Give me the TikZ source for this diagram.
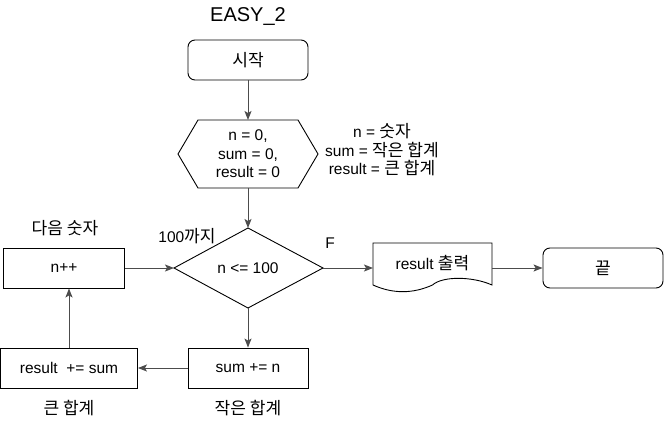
\documentclass[tikz,border=0pt]{standalone}
\usepackage{fontspec}
\setmainfont{Liberation Sans}
\newfontfamily\kr[Scale=1.1]{Noto Sans CJK KR}
\usetikzlibrary{arrows.meta}
\begin{document}
\begin{tikzpicture}[x=1pt,y=-1pt,
  every node/.style={font=\fontsize{15.5}{18.5}\selectfont, inner sep=0pt},
  box/.style={draw=black, line width=0.9pt, minimum width=120pt, minimum height=40pt, align=center},
  rbox/.style={box, rounded corners=7pt},
  lbl/.style={align=center},
  conn/.style={draw=black!70, line width=1pt, -{Stealth[length=9pt,width=7pt,inset=2pt]}}]
\useasboundingbox (0,0) rectangle (664,428);
% title
\node (title) at (248,17) {\fontsize{20}{24}\selectfont EASY\_2};
% start
\node[rbox] (start) at (248,60) {\kr 시작};
% hexagon
\coordinate (hl) at (178,154);
\coordinate (hr) at (318,154);
\draw[line width=0.9pt] (178,154) -- (198,120) -- (298,120) -- (318,154) -- (298,188) -- (198,188) -- cycle;
\node[lbl] (init) at (248,154) {n = 0,\\ sum = 0,\\ result = 0};
\coordinate (htop) at (248,120);
\coordinate (hbot) at (248,188);
% diamond
\draw[line width=0.9pt] (174,268) -- (248,228) -- (323,268) -- (248,308) -- cycle;
\node (cond) at (248,268) {n <= 100};
\coordinate (dtop) at (248,228);
\coordinate (dbot) at (248,308);
\coordinate (dl) at (174,268);
\coordinate (dr) at (323,268);
% document
\draw[line width=0.9pt] (373,243) -- (492,243) -- (492,285)
  .. controls (472,276.1) and (442.3,276.1) .. (432.5,285)
  .. controls (412.7,293.9) and (392.8,293.9) .. (373,285) -- cycle;
\node (out) at (432.5,263) {result {\kr 출력}};
\coordinate (docl) at (373,268);
\coordinate (docr) at (492,268);
% end
\node[rbox] (end) at (603,268) {\kr 끝};
% n++
\node[box, minimum width=121pt] (inc) at (64,268) {n++};
% sum += n
\node[box] (sum) at (248,368) {sum += n};
% result += sum
\node[box, minimum width=137pt] (res) at (69,368) {result\ \ += sum};
% annotations
\node[lbl] (ann) at (382,150) {n = {\kr 숫자}\\ sum = {\kr 작은 합계}\\ result = {\kr 큰 합계}};
\node (until) at (187,236) {100{\kr 까지}};
\node (F) at (330,243) {F};
\node (next) at (65,228) {\kr 다음 숫자};
\node (big) at (69,408) {\kr 큰 합계};
\node (small) at (248,408) {\kr 작은 합계};
% connectors
\draw[conn] (start) -- (htop);
\draw[conn] (hbot) -- (dtop);
\draw[conn] (dr) -- (docl);
\draw[conn] (docr) -- (end);
\draw[conn] (dbot) -- (sum);
\draw[conn] (sum) -- (res);
\draw[conn] (res.north) -- (res.north |- inc.south);
\draw[conn] (inc) -- (dl);
\end{tikzpicture}
\end{document}
